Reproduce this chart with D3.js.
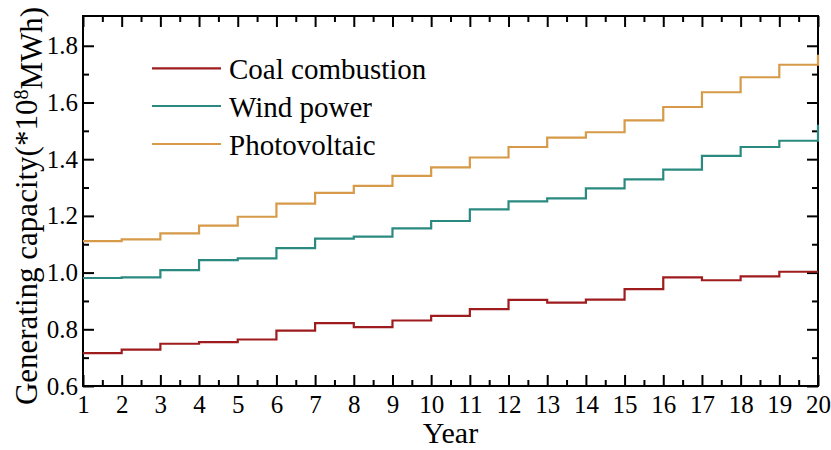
<!DOCTYPE html>
<html>
<head>
<meta charset="utf-8">
<script src="https://cdn.jsdelivr.net/npm/d3@7"></script>
</head>
<body style="margin:0;background:#fff">
<svg id="chart" width="831" height="450" style="display:block"></svg>
<script>
const years = d3.range(1, 21);
const coal = [0.716, 0.728, 0.749, 0.755, 0.764, 0.795, 0.822, 0.808, 0.831, 0.847, 0.871, 0.904, 0.894, 0.905, 0.942, 0.983, 0.973, 0.987, 1.003, 1.003];
const wind = [0.981, 0.983, 1.009, 1.044, 1.050, 1.086, 1.120, 1.127, 1.156, 1.182, 1.223, 1.251, 1.262, 1.297, 1.329, 1.363, 1.412, 1.443, 1.465, 1.521];
const pv   = [1.111, 1.117, 1.138, 1.166, 1.197, 1.243, 1.281, 1.306, 1.341, 1.371, 1.406, 1.443, 1.476, 1.495, 1.537, 1.584, 1.636, 1.689, 1.733, 1.768];
const seriesNames = ["Coal combustion", "Wind power", "Photovoltaic"];
const seriesColors = ["#9e1b1e", "#2a8a80", "#d69a48"];
const yTicks = [0.6, 0.8, 1.0, 1.2, 1.4, 1.6, 1.8];
const yMinor = [0.7, 0.9, 1.1, 1.3, 1.5, 1.7];
const xMinor = d3.range(1.5, 20, 1);

const FONT = "'Liberation Serif'";
const svg = d3.select("#chart");
const L = 83, R = 818, T = 16, B = 386;
const x = d3.scaleLinear().domain([1, 20]).range([L, R]);
const y = d3.scaleLinear().domain([0.6, 1.905]).range([B, T]);

const series = [coal, wind, pv].map((vals, i) => ({
  name: seriesNames[i], color: seriesColors[i],
  pts: years.map((yr, j) => [yr, vals[j]])
}));

function styleAxis(g) {
  g.attr("font-family", FONT);
  g.select(".domain").remove();
  g.selectAll("line").attr("stroke", "#000").attr("stroke-width", 2);
  g.selectAll("text").attr("font-family", FONT).attr("fill", "#000");
}

svg.append("g").attr("transform", `translate(0,${B})`)
  .call(d3.axisBottom(x).tickValues(years).tickFormat(d3.format("d")).tickSize(-11).tickPadding(9))
  .call(styleAxis)
  .selectAll("text").attr("font-size", 25);
svg.append("g").attr("transform", `translate(0,${B})`)
  .call(d3.axisBottom(x).tickValues(xMinor).tickFormat("").tickSize(-6))
  .call(styleAxis);
svg.append("g").attr("transform", `translate(0,${T})`)
  .call(d3.axisTop(x).tickValues(years).tickFormat("").tickSize(-11))
  .call(styleAxis);
svg.append("g").attr("transform", `translate(0,${T})`)
  .call(d3.axisTop(x).tickValues(xMinor).tickFormat("").tickSize(-6))
  .call(styleAxis);
svg.append("g").attr("transform", `translate(${L},0)`)
  .call(d3.axisLeft(y).tickValues(yTicks).tickFormat(d3.format(".1f")).tickSize(-11).tickPadding(5))
  .call(styleAxis)
  .selectAll("text").attr("font-size", 25);
svg.append("g").attr("transform", `translate(${L},0)`)
  .call(d3.axisLeft(y).tickValues(yMinor).tickFormat("").tickSize(-6))
  .call(styleAxis);
svg.append("g").attr("transform", `translate(${R},0)`)
  .call(d3.axisRight(y).tickValues(yTicks).tickFormat("").tickSize(-11))
  .call(styleAxis);
svg.append("g").attr("transform", `translate(${R},0)`)
  .call(d3.axisRight(y).tickValues(yMinor).tickFormat("").tickSize(-6))
  .call(styleAxis);

svg.append("rect").attr("x", L).attr("y", T).attr("width", R - L).attr("height", B - T)
  .attr("fill", "none").attr("stroke", "#000").attr("stroke-width", 2);

// series drawn on top of the frame
const line = d3.line().x(d => x(d[0])).y(d => y(d[1])).curve(d3.curveStepAfter);
svg.append("g").selectAll("path").data(series).join("path")
  .attr("d", d => line(d.pts))
  .attr("fill", "none")
  .attr("stroke", d => d.color)
  .attr("stroke-width", 2.2);

svg.append("text").attr("x", (L + R) / 2).attr("y", 443)
  .attr("font-family", FONT)
  .attr("text-anchor", "middle").attr("font-size", 30).text("Year");

const yl = svg.append("text")
  .attr("transform", `translate(37,206) rotate(-90)`)
  .attr("font-family", FONT)
  .attr("text-anchor", "middle").attr("font-size", 31);
yl.append("tspan").text("Generating capacity(*10");
yl.append("tspan").attr("dy", "-0.45em").attr("font-size", 20).text("8");
yl.append("tspan").attr("dy", "0.45em").text("MWh)");

const legendY = [68.3, 106, 144];
const lg = svg.append("g").selectAll("g").data(series).join("g")
  .attr("transform", (d, i) => `translate(0,${legendY[i]})`);
lg.append("line").attr("x1", 152).attr("x2", 221).attr("y1", 0).attr("y2", 0)
  .attr("stroke", d => d.color).attr("stroke-width", 2.2);
lg.append("text").attr("x", 229).attr("y", 10.5)
  .attr("font-family", FONT)
  .attr("font-size", 29).text(d => d.name);
</script>
</body>
</html>
